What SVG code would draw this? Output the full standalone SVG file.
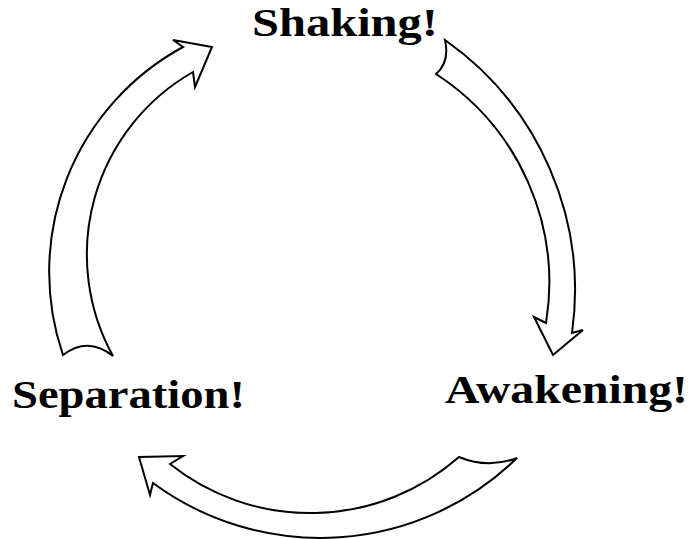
<svg xmlns="http://www.w3.org/2000/svg" width="690" height="539" viewBox="0 0 690 539">
<style>
.arrow{fill:#fff;stroke:#000;stroke-width:2;stroke-linejoin:miter}
.lbl{font-family:"Liberation Serif","Times New Roman",serif;font-weight:bold;font-size:39px;fill:#000}
</style>
<rect width="690" height="539" fill="#fff"/>
<g id="connectors">
<path id="arrow-separation-shaking" class="arrow" d="M63,355 A256,256 0 0 1 183,47 L173,40 L212,47 L195,87 L193,72 A210,210 0 0 0 113,356 Q88,336 63,355 Z"/>
<path id="arrow-shaking-awakening" class="arrow" d="M445,40 A306,306 0 0 1 572,333 L583,330 L553,355 L534,317 L546,323 A249,249 0 0 0 436,74 Q450,62 445,40 Z"/>
<path id="arrow-awakening-separation" class="arrow" d="M517,458 A282,282 0 0 1 153,483 L150,495 L139,457 L183,456 L170,464 A225,225 0 0 0 459,457 Q488,469 517,458 Z"/>
</g>
<g id="node-shaking"><text class="lbl" x="252" y="36" textLength="186" lengthAdjust="spacingAndGlyphs">Shaking!</text></g>
<g id="node-awakening"><text class="lbl" x="445" y="403" textLength="243" lengthAdjust="spacingAndGlyphs">Awakening!</text></g>
<g id="node-separation"><text class="lbl" x="12" y="408" textLength="233" lengthAdjust="spacingAndGlyphs">Separation!</text></g>
</svg>
